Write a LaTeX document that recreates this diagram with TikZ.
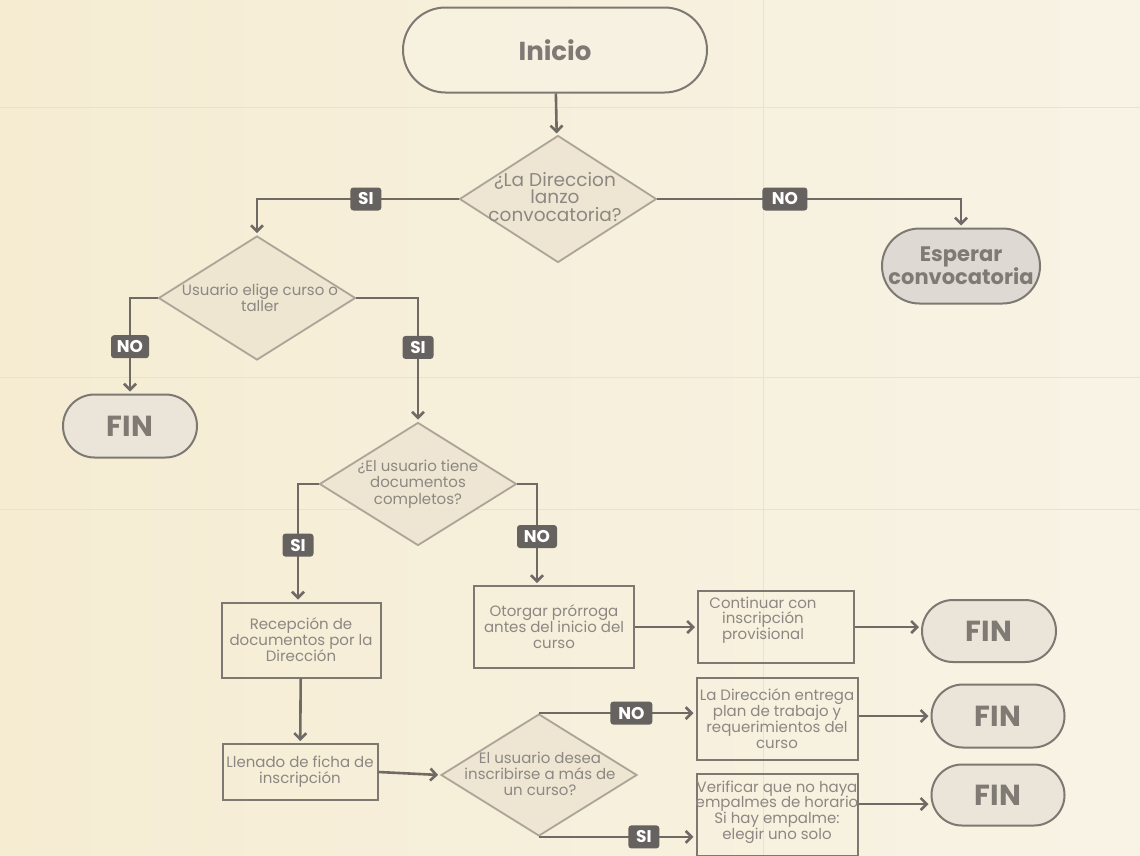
\documentclass[tikz,border=0pt]{standalone}
\usepackage{fontspec}
\setmainfont{Poppins}
\usetikzlibrary{shapes.geometric,shapes.misc,arrows.meta}
\definecolor{bg}{HTML}{F6F0DC}
\definecolor{bgl}{HTML}{F5ECD2}
\definecolor{bgr}{HTML}{F8F3E5}
\definecolor{gridc}{HTML}{F2DFC4}
\definecolor{conc}{HTML}{6F6A66}
\definecolor{boxc}{HTML}{7E7873}
\definecolor{diac}{HTML}{ADA498}
\definecolor{diaf}{HTML}{EDE5D1}
\definecolor{txtc}{HTML}{8C8782}
\definecolor{termt}{HTML}{807A75}
\definecolor{termf}{HTML}{EAE5D8}
\definecolor{espf}{HTML}{DEDAD3}
\definecolor{labc}{HTML}{666260}
\begin{document}
\begin{tikzpicture}[x=1pt,y=-1pt,
  term/.style={draw=boxc, line width=2pt, rounded rectangle, fill=termf, text=termt,
    font=\bfseries\fontsize{29}{30}\selectfont, align=center, inner sep=0pt},
  dia/.style={draw=diac, line width=1.8pt, diamond, fill=diaf, fill opacity=0.85, text opacity=1, inner sep=0pt},
  dtext/.style={text=txtc, align=center, inner sep=0pt, font=\fontsize{15}{16.3}\selectfont},
  pbox/.style={draw=boxc, line width=2pt, rectangle, text=txtc, align=center,
    inner sep=0pt, font=\fontsize{15}{16}\selectfont},
  conn/.style={draw=conc, line width=2.6pt, -{Straight Barb[length=6pt,width=12pt]}, shorten >=2pt},
  lab/.style={fill=labc, text=white, font=\bfseries\fontsize{17}{17}\selectfont,
    rounded corners=3pt, inner sep=0pt, minimum height=23pt, minimum width=31pt},
  gridl/.style={draw=gridc, line width=1pt}
]
\shade[left color=bgl, right color=bgr] (0,0) rectangle (1140,855);
\useasboundingbox (0,0) rectangle (1140,855);
% faint paper lines
\draw[gridl] (0,107) -- (1140,107);
\draw[gridl] (0,377) -- (1140,377);
\draw[gridl] (0,509) -- (1140,509);
\draw[gridl] (763,0) -- (763,855);

% terminals
\node[term, fill=bgr, fill opacity=0.6, text opacity=1, text=txtc!90!black, minimum width=304pt, minimum height=85pt,
  font=\bfseries\fontsize{26}{30}\selectfont] (ini) at (555,50) {Inicio};
\node[term, fill=espf, minimum width=158pt, minimum height=75pt,
  font=\bfseries\fontsize{21}{22}\selectfont] (esp) at (961,266) {Esperar\\convocatoria};
\node[term, minimum width=134pt, minimum height=63pt] (fin1) at (130,426) {FIN};
\node[term, minimum width=134pt, minimum height=62pt] (fin2) at (989,631) {FIN};
\node[term, minimum width=133pt, minimum height=63pt] (fin3) at (998,716) {FIN};
\node[term, minimum width=133pt, minimum height=61pt] (fin4) at (998,795) {FIN};

% decisions
\node[dia, minimum width=197pt, minimum height=127pt] (d1) at (558,199) {};
\node[dtext, font=\fontsize{18.5}{17.5}\selectfont] (d1t) at (555,197) {¿La Direccion\\lanzo\\convocatoria?};
\node[dia, minimum width=197pt, minimum height=124pt] (d2) at (257,298) {};
\node[dtext, font=\fontsize{15}{15}\selectfont] (d2t) at (260,298) {Usuario elige curso o\\taller};
\node[dia, minimum width=197pt, minimum height=123pt] (d3) at (418,484) {};
\node[dtext] (d3t) at (418,484) {¿El usuario tiene\\documentos\\completos?};
\node[dia, minimum width=196pt, minimum height=122pt] (d4) at (539,775) {};
\node[dtext] (d4t) at (540,774) {El usuario desea\\inscribirse a más de\\un curso?};

% process boxes
\node[pbox, minimum width=159pt, minimum height=75pt] (rec) at (301,640) {Recepción de\\documentos por la\\Dirección};
\node[pbox, minimum width=155pt, minimum height=56pt] (ll) at (300,772) {Llenado de ficha de\\inscripción};
\node[pbox, minimum width=160pt, minimum height=82pt] (otor) at (554,627) {Otorgar prórroga\\antes del inicio del\\curso};
\node[pbox, minimum width=156pt, minimum height=72pt] (cont) at (776,627) {};
\node[dtext, font=\fontsize{15}{15.5}\selectfont] (contt) at (763,620) {Continuar con\\inscripción\\provisional};
\node[pbox, minimum width=161pt, minimum height=82pt] (lad) at (777,719) {La Dirección entrega\\plan de trabajo y\\requerimientos del\\curso};
\node[pbox, minimum width=161pt, minimum height=82pt] (ver) at (777,815) {};
\node[dtext, font=\fontsize{15}{15.7}\selectfont] (vert) at (777,812) {Verificar que no haya\\empalmes de horario\\Si hay empalme:\\elegir uno solo};

% connectors
\draw[conn] (ini) -- (d1);
\draw[conn] (d1.west) -| node[lab,pos=0.23]{SI} (d2.north);
\draw[conn] (d1.east) -| node[lab,pos=0.21,minimum width=45pt]{NO} (esp.north);
\draw[conn] (d2.west) -| node[lab,pos=0.755,minimum width=38pt]{NO} (fin1.north);
\draw[conn] (d2.east) -| node[lab,pos=0.70]{SI} (d3.north);
\draw[conn] (d3.west) -| node[lab,pos=0.76]{SI} ([xshift=-3pt]rec.north);
\draw[conn] (d3.east) -| node[lab,pos=0.76,minimum width=40pt]{NO} ([xshift=-17pt]otor.north);
\draw[conn] (rec) -- (ll);
\draw[conn] (ll.east) -- (d4.west);
\draw[conn] (otor) -- (cont);
\draw[conn] (cont.east) -- (cont.east -| fin2.west);
\draw[conn] (d4.north) -- node[lab,pos=0.59,minimum width=42pt]{NO} (d4.north -| lad.west);
\draw[conn] (d4.south) -- node[lab,pos=0.67]{SI} (d4.south -| ver.west);
\draw[conn] (lad.east |- fin3.west) -- (fin3.west);
\draw[conn] ([yshift=11pt]ver.east) -- ([yshift=11pt]ver.east -| fin4.west);
\end{tikzpicture}
\end{document}
